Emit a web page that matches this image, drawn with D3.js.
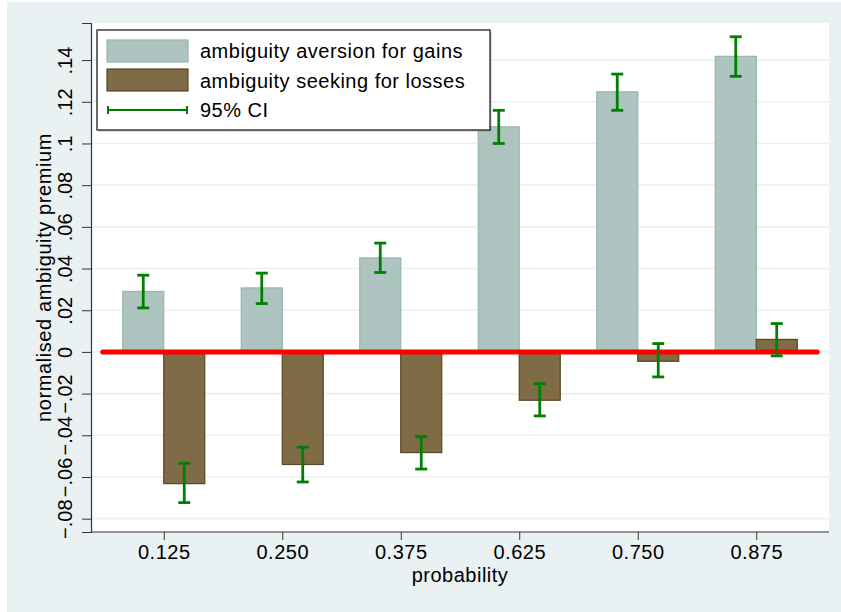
<!DOCTYPE html>
<html><head><meta charset="utf-8">
<script src="https://cdn.jsdelivr.net/npm/d3@7"></script>
<style>
html,body{margin:0;padding:0;background:#fff;}
text{font-family:"Liberation Sans",Arial,Helvetica,sans-serif;fill:#000;}
</style></head>
<body>
<svg id="chart" width="841" height="612"></svg>
<script>
const categories = ["0.125","0.250","0.375","0.625","0.750","0.875"];
const gains    = [0.0290, 0.0307, 0.0451, 0.1080, 0.1248, 0.1418];
const gainsLo  = [0.0211, 0.0232, 0.0381, 0.1000, 0.1159, 0.1322];
const gainsHi  = [0.0368, 0.0378, 0.0522, 0.1159, 0.1333, 0.1512];
const losses   = [-0.0632, -0.0540, -0.0483, -0.0232, -0.0045, 0.0060];
const lossesLo = [-0.0723, -0.0624, -0.0562, -0.0307, -0.0120, -0.0019];
const lossesHi = [-0.0534, -0.0457, -0.0406, -0.0152, 0.0040, 0.0136];
const yTicks = [-0.08,-0.06,-0.04,-0.02,0,0.02,0.04,0.06,0.08,0.1,0.12,0.14];
const yTickLabels = ["\u2212.08","\u2212.06","\u2212.04","\u2212.02","0",".02",".04",".06",".08",".1",".12",".14"];
const legendLabels = ["ambiguity aversion for gains","ambiguity seeking for losses","95% CI"];
const xTitle = "probability";
const yTitle = "normalised ambiguity premium";

const W = 841, H = 612;
const margin = {top: 23, right: 12, bottom: 80, left: 91};
const svg = d3.select("#chart");

// outer background
svg.append("rect").attr("x",7).attr("y",2).attr("width",W-7).attr("height",H-2).attr("fill","#eaf1f3");
// plot region
svg.append("rect").attr("x",margin.left).attr("y",margin.top)
  .attr("width",W-margin.left-margin.right).attr("height",H-margin.top-margin.bottom).attr("fill","#fff");

const x = d3.scalePoint().domain(categories).range([margin.left, W-margin.right]).padding(0.614);
const y = d3.scaleLinear().domain([-0.0864, 0.1578]).range([H-margin.bottom, margin.top]);
const step = x.step();
const bw = step*0.346;

// gridlines
svg.append("g").selectAll("line").data(yTicks).join("line")
  .attr("x1",margin.left).attr("x2",W-margin.right)
  .attr("y1",d=>y(d)).attr("y2",d=>y(d))
  .attr("stroke","#eaf1f3").attr("stroke-width",1.6);

// gains bars
svg.append("g").selectAll("rect").data(categories).join("rect")
  .attr("x",(d)=>x(d)-bw).attr("width",bw)
  .attr("y",(d,i)=>y(Math.max(0,gains[i])))
  .attr("height",(d,i)=>Math.abs(y(gains[i])-y(0)))
  .attr("fill","#adc4c0").attr("stroke","#9bb4af").attr("stroke-width",1.2);

// losses bars
svg.append("g").selectAll("rect").data(categories).join("rect")
  .attr("x",(d)=>x(d)).attr("width",bw)
  .attr("y",(d,i)=>y(Math.max(0,losses[i])))
  .attr("height",(d,i)=>Math.abs(y(losses[i])-y(0)))
  .attr("fill","#7f6b45").attr("stroke","#574620").attr("stroke-width",1.2);

// red zero line
svg.append("line")
  .attr("x1",x(categories[0])-0.515*step).attr("x2",x(categories[categories.length-1])+0.515*step)
  .attr("y1",y(0)).attr("y2",y(0))
  .attr("stroke","#ff0000").attr("stroke-width",5).attr("stroke-linecap","round");

// error bars
const green = "#008000";
const cap = 6;
function drawCI(lo, hi, off){
  const g = svg.append("g").attr("stroke",green).attr("stroke-width",2.8);
  categories.forEach((c,i)=>{
    const cx = x(c)+off;
    g.append("line").attr("x1",cx).attr("x2",cx).attr("y1",y(lo[i])).attr("y2",y(hi[i]));
    g.append("line").attr("x1",cx-cap).attr("x2",cx+cap).attr("y1",y(lo[i])).attr("y2",y(lo[i]));
    g.append("line").attr("x1",cx-cap).attr("x2",cx+cap).attr("y1",y(hi[i])).attr("y2",y(hi[i]));
  });
}
drawCI(gainsLo, gainsHi, -bw/2);
drawCI(lossesLo, lossesHi, bw/2);

// axes
const yAxis = d3.axisLeft(y).tickValues(yTicks).tickSize(9).tickFormat((d,i)=>yTickLabels[i]);
const gy = svg.append("g").attr("transform",`translate(${margin.left},0)`).call(yAxis);
gy.select(".domain").attr("stroke","#333").attr("stroke-width",1.2);
gy.selectAll(".tick line").attr("stroke","#333");
gy.selectAll(".tick text").attr("font-size",20).attr("fill","#000")
  .attr("font-family","Liberation Sans, Arial, sans-serif")
  .attr("x",null).attr("dy",null)
  .attr("text-anchor","middle")
  .attr("transform","translate(-19,0) rotate(-90)");

const xAxis = d3.axisBottom(x).tickSize(8).tickSizeOuter(0);
const gx = svg.append("g").attr("transform",`translate(0,${H-margin.bottom})`).call(xAxis);
gx.select(".domain").attr("stroke","#333").attr("stroke-width",1.2).attr("d",`M${margin.left},0H${W-margin.right}`);
gx.selectAll(".tick line").attr("stroke","#333");
gx.selectAll(".tick text").attr("font-size",20).attr("fill","#000")
  .attr("font-family","Liberation Sans, Arial, sans-serif")
  .attr("letter-spacing","0.5px")
  .attr("y",27).attr("dy",null);

// axis titles
svg.append("text").attr("x",(margin.left+W-margin.right)/2).attr("y",582)
  .attr("text-anchor","middle").attr("font-size",20).attr("letter-spacing","0.5px").text(xTitle);
svg.append("text").attr("transform",`translate(51,${(margin.top+H-margin.bottom)/2}) rotate(-90)`)
  .attr("text-anchor","middle").attr("font-size",20).attr("letter-spacing","0.6px").text(yTitle);

// legend
const lg = svg.append("g").attr("transform",`translate(${margin.left+6},${margin.top+7})`);
lg.append("rect").attr("x",1.5).attr("y",1.5).attr("width",393).attr("height",100).attr("fill","#888").attr("opacity",0.5);
lg.append("rect").attr("x",0).attr("y",0).attr("width",393).attr("height",100)
  .attr("fill","#fff").attr("stroke","#222").attr("stroke-width",1.3);
lg.append("rect").attr("x",10).attr("y",10).attr("width",81).attr("height",22)
  .attr("fill","#adc4c0").attr("stroke","#9bb4af").attr("stroke-width",1.2);
lg.append("rect").attr("x",10).attr("y",39).attr("width",81).attr("height",22)
  .attr("fill","#7f6b45").attr("stroke","#574620").attr("stroke-width",1.2);
const lci = lg.append("g").attr("stroke",green).attr("stroke-width",2);
lci.append("line").attr("x1",10).attr("x2",91).attr("y1",80).attr("y2",80);
lci.append("line").attr("x1",11).attr("x2",11).attr("y1",76).attr("y2",84);
lci.append("line").attr("x1",90).attr("x2",90).attr("y1",76).attr("y2",84);
[28, 57.5, 87].forEach((yy,i)=>{
  lg.append("text").attr("x",103).attr("y",yy).attr("font-size",20).attr("letter-spacing","0.5px").text(legendLabels[i]);
});
</script>
</body></html>
